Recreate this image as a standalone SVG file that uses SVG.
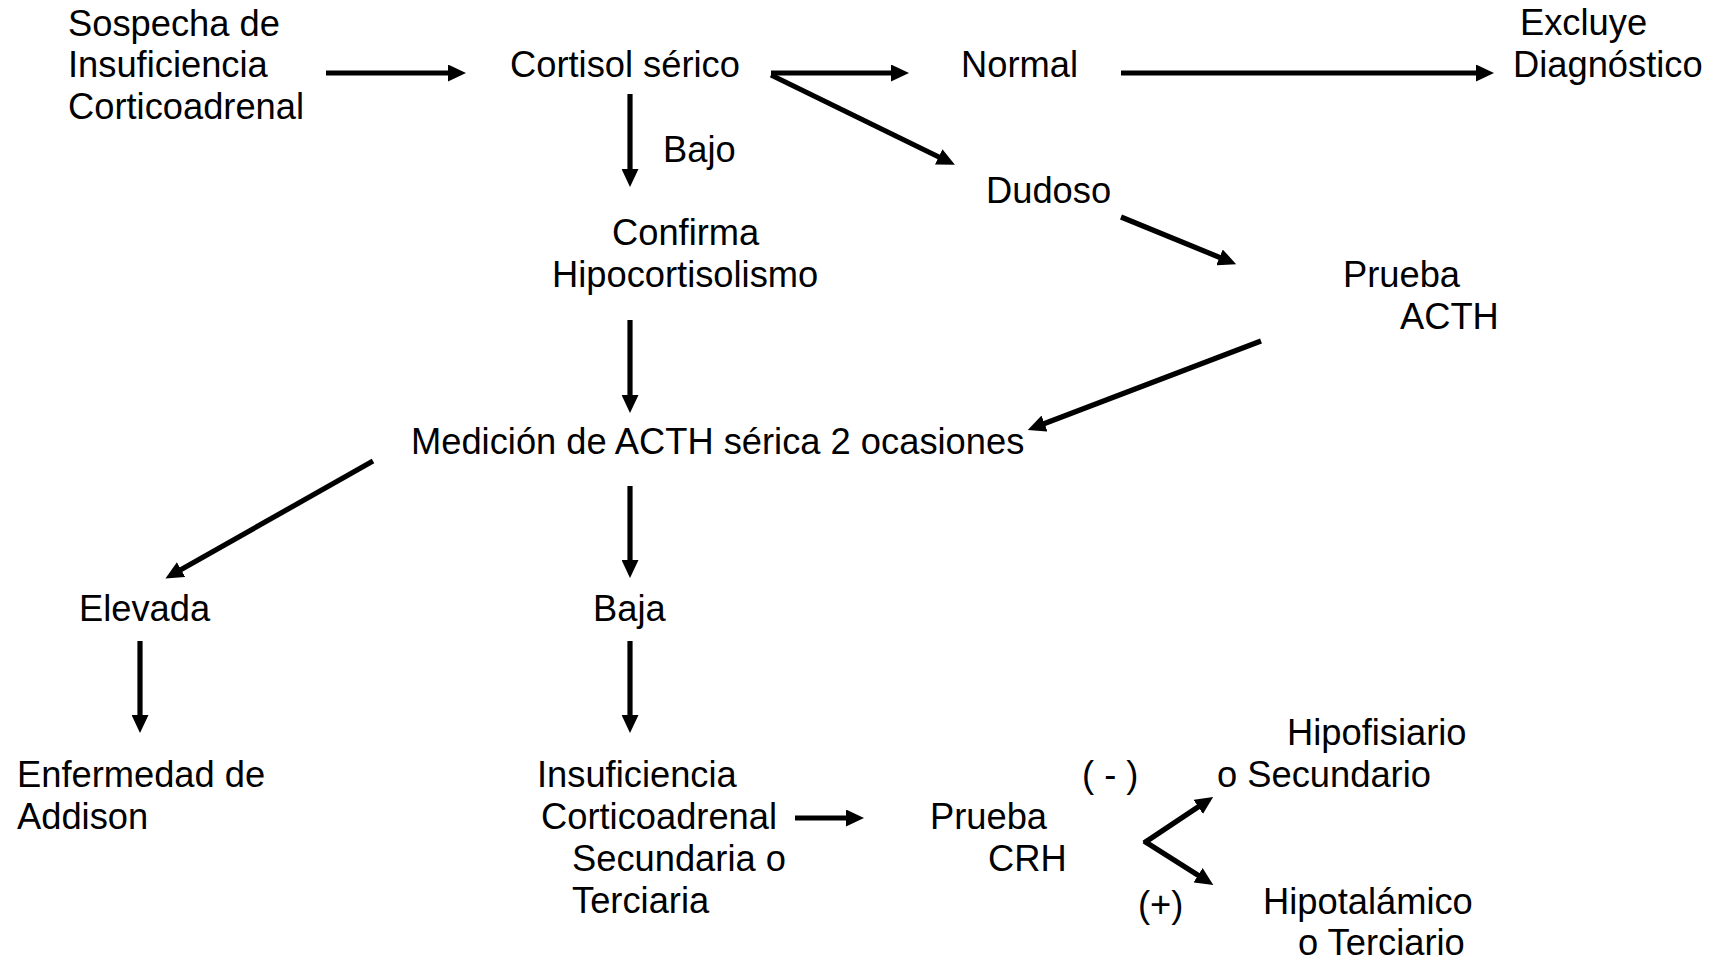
<svg xmlns="http://www.w3.org/2000/svg" width="1715" height="960" viewBox="0 0 1715 960">
<style>
text{font-family:"Liberation Sans",Arial,sans-serif;font-size:36.3px;fill:#000}
.c line{stroke:#000;stroke-width:5.2;marker-end:url(#ah)}
</style>
<defs>
<marker id="ah" markerUnits="userSpaceOnUse" markerWidth="18" markerHeight="17" refX="7" refY="8.5" orient="auto">
<path d="M0,0 L18,8.5 L0,17 z" fill="#000"/>
</marker>
</defs>
<rect width="1715" height="960" fill="#fff"/>
<g id="n-sospecha"><text x="68" y="36">Sospecha de</text><text x="68" y="77">Insuficiencia</text><text x="68" y="119">Corticoadrenal</text></g>
<g id="n-cortisol"><text x="510" y="77">Cortisol sérico</text></g>
<g id="n-normal"><text x="961" y="77">Normal</text></g>
<g id="n-excluye"><text x="1520" y="35">Excluye</text><text x="1513" y="77">Diagnóstico</text></g>
<g id="n-bajo"><text x="663" y="162">Bajo</text></g>
<g id="n-dudoso"><text x="986" y="203">Dudoso</text></g>
<g id="n-confirma"><text x="612" y="245">Confirma</text><text x="552" y="287">Hipocortisolismo</text></g>
<g id="n-pruebaacth"><text x="1343" y="287">Prueba</text><text x="1400" y="329">ACTH</text></g>
<g id="n-medicion"><text x="411" y="454">Medición de ACTH sérica 2 ocasiones</text></g>
<g id="n-elevada"><text x="79" y="621">Elevada</text></g>
<g id="n-baja"><text x="593" y="621">Baja</text></g>
<g id="n-addison"><text x="17" y="787">Enfermedad de</text><text x="17" y="829">Addison</text></g>
<g id="n-insuf"><text x="537" y="787">Insuficiencia</text><text x="541" y="829">Corticoadrenal</text><text x="572" y="871">Secundaria o</text><text x="572" y="913">Terciaria</text></g>
<g id="n-pruebacrh"><text x="930" y="829">Prueba</text><text x="988" y="871">CRH</text></g>
<g id="n-neg"><text x="1082" y="787">( - )</text></g>
<g id="n-hipofisiario"><text x="1287" y="745">Hipofisiario</text><text x="1217" y="787">o Secundario</text></g>
<g id="n-pos"><text x="1138" y="917">(+)</text></g>
<g id="n-hipotalamico"><text x="1263" y="914">Hipotalámico</text><text x="1298" y="955">o Terciario</text></g>
<g id="connectors" class="c">
<line x1="326" y1="73" x2="455" y2="73"/>
<line x1="771" y1="73" x2="898" y2="73"/>
<line x1="771" y1="75" x2="945" y2="160"/>
<line x1="630" y1="94" x2="630" y2="176"/>
<line x1="1121" y1="73" x2="1483" y2="73"/>
<line x1="1121" y1="217" x2="1226" y2="260"/>
<line x1="1261" y1="341" x2="1038" y2="426"/>
<line x1="630" y1="320" x2="630" y2="402"/>
<line x1="373" y1="461" x2="175" y2="573"/>
<line x1="630" y1="486" x2="630" y2="567"/>
<line x1="140" y1="641" x2="140" y2="722"/>
<line x1="630" y1="641" x2="630" y2="722"/>
<line x1="795" y1="818" x2="853" y2="818"/>
<line x1="1144" y1="843" x2="1204" y2="803"/>
<line x1="1144" y1="841" x2="1204" y2="879"/>
</g>
</svg>
